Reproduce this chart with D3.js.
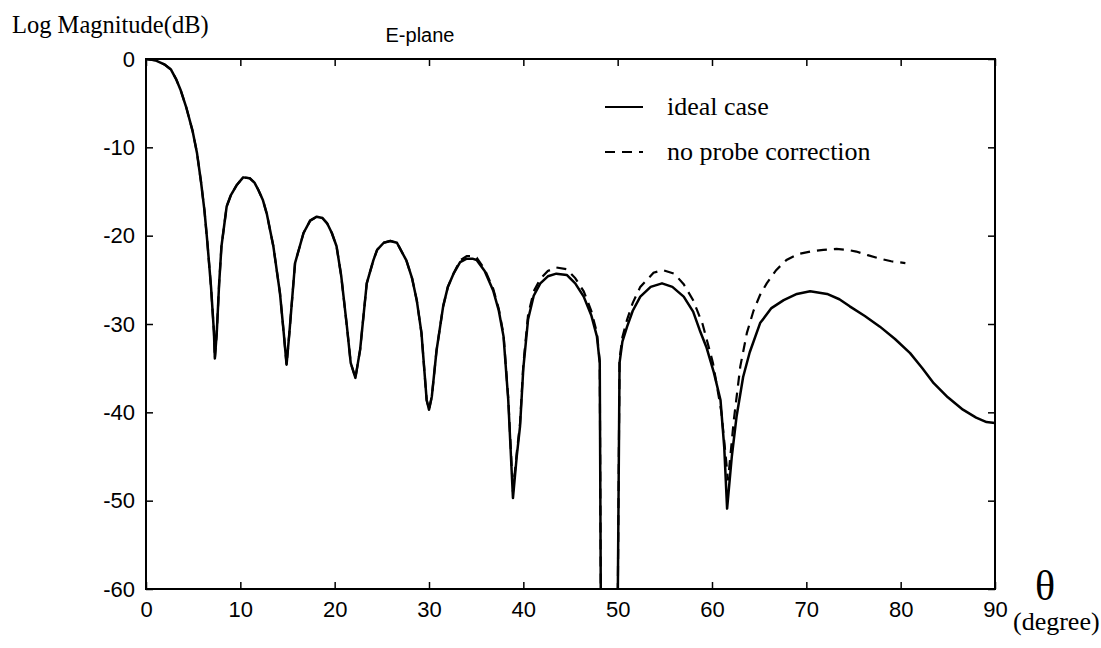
<!DOCTYPE html>
<html>
  <head>
    <meta charset="utf-8" />
    <title>E-plane</title>
    <script src="https://d3js.org/d3.v7.min.js"></script>
    <style>
      body { margin: 0; background: #fff; }
    </style>
  </head>
  <body>
    <svg width="1101" height="648"></svg>
    <script>
      // Data: [theta (deg), magnitude (dB)]
      var ideal = [
        [0, 0], [1, -0.15], [2, -0.65], [2.65, -1.2], [3.2, -2.3], [3.7, -3.6], [4.3, -5.6], [4.95, -8.2],
        [5.4, -10.6], [5.83, -13.9], [6.2, -17.2], [6.5, -20.7], [6.9, -25.9], [7.2, -30.9],
        [7.3, -33.9], [7.5, -31.0], [7.75, -25.5], [8.0, -21.2], [8.55, -16.7], [9.0, -15.4],
        [9.6, -14.3], [10.3, -13.4], [11.0, -13.5], [11.5, -14.0], [11.9, -14.8], [12.4, -16.0],
        [12.8, -17.5], [13.5, -21.2], [14.2, -26.5], [14.6, -31.0], [14.9, -34.6], [15.2, -31.0],
        [15.8, -23.1], [16.7, -19.7], [17.4, -18.3], [18.1, -17.85], [18.7, -18.0], [19.2, -18.6],
        [19.7, -19.7], [20.2, -21.2], [20.7, -24.6], [21.3, -30.3], [21.7, -34.4], [22.2, -36.1],
        [22.7, -32.9], [23.4, -25.4], [24.1, -22.8], [24.5, -21.6], [25.2, -20.8], [25.9, -20.6],
        [26.6, -20.8], [27.6, -22.8], [28.2, -24.8], [28.7, -27.3], [29.2, -31.0], [29.75, -38.6],
        [30.0, -39.7], [30.3, -38.2], [30.8, -33.0], [31.5, -28.0], [32.0, -25.8], [32.6, -24.3],
        [33.3, -23.0], [34.0, -22.6], [34.6, -22.6], [35.05, -22.75], [35.9, -24.0], [36.8, -26.2],
        [37.4, -28.5], [37.9, -31.4], [38.4, -38.6], [38.9, -49.7], [39.3, -45.0], [39.65, -41.6],
        [40.0, -35.0], [40.5, -29.5], [41.1, -26.8], [41.8, -25.4], [42.6, -24.6], [43.5, -24.3],
        [44.6, -24.45], [45.5, -25.4], [46.4, -26.9], [47.2, -29.0], [47.8, -31.4], [48.1, -34.4],
        [48.25, -70], [49.95, -70], [50.2, -34.4], [50.5, -32.0], [51.0, -30.3], [51.6, -28.5],
        [52.4, -26.9], [53.5, -25.8], [54.7, -25.4], [55.8, -25.8], [57.0, -26.9], [58.0, -28.6],
        [58.7, -30.7], [59.4, -32.6], [60.2, -35.5], [60.9, -38.6], [61.3, -44.0], [61.6, -50.9],
        [62.1, -45.0], [62.6, -40.5], [63.3, -36.0], [64.0, -33.2], [65.1, -29.9], [66.3, -28.2],
        [67.6, -27.3], [69.0, -26.6], [70.4, -26.3], [72.2, -26.6], [73.5, -27.2], [74.6, -28.0],
        [76.2, -29.1], [77.8, -30.3], [79.4, -31.7], [81.0, -33.3], [82.3, -35.0], [83.5, -36.7],
        [85.0, -38.3], [86.6, -39.7], [88.0, -40.6], [89.1, -41.1], [90, -41.2]
      ];

      var noProbe = [
        [0, 0], [1, -0.15], [2, -0.65], [2.65, -1.2], [3.2, -2.3], [3.7, -3.6], [4.3, -5.6], [4.95, -8.2],
        [5.4, -10.6], [5.83, -13.9], [6.2, -17.2], [6.5, -20.7], [6.9, -25.9], [7.2, -30.9],
        [7.3, -33.9], [7.5, -31.0], [7.75, -25.5], [8.0, -21.2], [8.55, -16.7], [9.0, -15.4],
        [9.6, -14.3], [10.3, -13.4], [11.0, -13.5], [11.5, -14.0], [11.9, -14.8], [12.4, -16.0],
        [12.8, -17.5], [13.5, -21.2], [14.2, -26.5], [14.6, -31.0], [14.9, -34.6], [15.2, -31.0],
        [15.8, -23.1], [16.7, -19.7], [17.4, -18.3], [18.1, -17.85], [18.7, -18.0], [19.2, -18.6],
        [19.7, -19.7], [20.2, -21.2], [20.7, -24.6], [21.3, -30.3], [21.7, -34.4], [22.2, -36.1],
        [22.7, -32.9], [23.4, -25.4], [24.1, -22.8], [24.5, -21.6], [25.2, -20.8], [25.9, -20.6],
        [26.6, -20.8], [27.6, -22.8], [28.2, -24.8], [28.7, -27.3], [29.2, -31.0], [29.75, -38.6],
        [30.0, -39.7], [30.3, -38.2], [30.8, -33.0], [31.5, -28.0], [32.0, -25.8], [32.6, -24.3],
        [33.3, -22.8], [34.0, -22.3], [34.6, -22.3], [35.05, -22.5], [35.9, -23.8], [36.8, -26.0],
        [37.4, -28.3], [37.9, -31.2], [38.4, -38.4], [38.9, -49.0], [39.3, -44.6], [39.65, -41.3],
        [40.0, -34.6], [40.5, -29.0], [41.1, -26.3], [41.8, -24.9], [42.6, -24.0], [43.5, -23.6],
        [44.6, -23.8], [45.5, -24.8], [46.4, -26.3], [47.2, -28.5], [47.8, -31.0], [48.1, -34.2],
        [48.25, -70], [49.95, -70], [50.2, -34.0], [50.5, -31.5], [51.0, -29.5], [51.6, -27.6],
        [52.4, -25.8], [53.8, -24.2], [54.8, -23.9], [56.0, -24.3], [57.0, -25.5], [58.0, -27.3],
        [59.0, -30.0], [60.1, -34.4], [61.0, -40.0], [61.7, -47.7], [62.3, -41.0], [63.0, -34.8],
        [63.7, -31.0], [64.4, -28.5], [65.1, -26.7], [65.8, -25.4], [66.8, -23.9], [67.9, -22.75],
        [69.1, -22.1], [70.4, -21.8], [71.8, -21.6], [73.2, -21.5], [74.3, -21.6], [75.3, -21.8],
        [76.5, -22.2], [77.8, -22.6], [79.0, -22.9], [80.5, -23.1]
      ];

      var xTicks = [0, 10, 20, 30, 40, 50, 60, 70, 80, 90];
      var yTicks = [0, -10, -20, -30, -40, -50, -60];
      var legendLabels = ["ideal case", "no probe correction"];

      var svg = d3.select("svg");

      // plot box
      var box = { left: 146, right: 995, top: 59, bottom: 589 };

      var x = d3.scaleLinear().domain([0, 90]).range([box.left, box.right]);
      var y = d3.scaleLinear().domain([-60, 0]).range([box.bottom, box.top]);

      svg.append("clipPath").attr("id", "clip")
        .append("rect")
        .attr("x", box.left).attr("y", box.top)
        .attr("width", box.right - box.left).attr("height", box.bottom - box.top);

      // plain hyphen minus like the original
      var fmt = function (d) { return String(d); };

      // axes, ticks pointing inward like matlab
      function styleAxis(g) {
        g.select(".domain").remove();
        g.selectAll(".tick line").attr("stroke", "#000").attr("stroke-width", 1.5);
        g.selectAll(".tick text")
          .style("font-family", "'Liberation Sans', Arial, sans-serif")
          .style("font-size", "22px")
          .attr("fill", "#000");
      }

      svg.append("g")
        .attr("transform", "translate(0," + box.bottom + ")")
        .call(d3.axisBottom(x).tickValues(xTicks).tickSizeInner(-7).tickSizeOuter(0).tickPadding(12).tickFormat(fmt))
        .call(styleAxis);

      svg.append("g")
        .attr("transform", "translate(0," + box.top + ")")
        .call(d3.axisTop(x).tickValues(xTicks).tickSizeInner(-7).tickSizeOuter(0).tickFormat(""))
        .call(styleAxis);

      svg.append("g")
        .attr("transform", "translate(" + box.left + ",0)")
        .call(d3.axisLeft(y).tickValues(yTicks).tickSizeInner(-7).tickSizeOuter(0).tickPadding(11).tickFormat(fmt))
        .call(styleAxis);

      svg.append("g")
        .attr("transform", "translate(" + box.right + ",0)")
        .call(d3.axisRight(y).tickValues(yTicks).tickSizeInner(-7).tickSizeOuter(0).tickFormat(""))
        .call(styleAxis);

      svg.append("rect")
        .attr("x", box.left).attr("y", box.top)
        .attr("width", box.right - box.left).attr("height", box.bottom - box.top)
        .attr("fill", "none").attr("stroke", "#000").attr("stroke-width", 2);

      var line = d3.line()
        .x(function (d) { return x(d[0]); })
        .y(function (d) { return y(d[1]); });

      var plot = svg.append("g").attr("clip-path", "url(#clip)");

      plot.append("path")
        .datum(noProbe)
        .attr("d", line)
        .attr("fill", "none")
        .attr("stroke", "#000")
        .attr("stroke-width", 2.2)
        .attr("stroke-dasharray", "10,7");

      plot.append("path")
        .datum(ideal)
        .attr("d", line)
        .attr("fill", "none")
        .attr("stroke", "#000")
        .attr("stroke-width", 2.5)
        .attr("stroke-linejoin", "round");

      // legend
      var legend = svg.append("g");
      legend.selectAll("line")
        .data(legendLabels)
        .enter()
        .append("line")
        .attr("x1", 605).attr("x2", 643)
        .attr("y1", function (d, i) { return 107 + i * 45; })
        .attr("y2", function (d, i) { return 107 + i * 45; })
        .attr("stroke", "#000")
        .attr("stroke-width", 2)
        .attr("stroke-dasharray", function (d, i) { return i ? "10,7" : null; });

      legend.selectAll("text")
        .data(legendLabels)
        .enter()
        .append("text")
        .attr("x", 667)
        .attr("y", function (d, i) { return 115 + i * 45; })
        .style("font-family", "'Liberation Serif', 'Times New Roman', serif")
        .style("font-size", "26px")
        .text(function (d) { return d; });

      // labels
      svg.append("text")
        .attr("x", 12).attr("y", 33)
        .style("font-family", "'Liberation Serif', 'Times New Roman', serif")
        .style("font-size", "24.5px")
        .text("Log Magnitude(dB)");

      svg.append("text")
        .attr("x", 420).attr("y", 42)
        .attr("text-anchor", "middle")
        .style("font-family", "'Liberation Sans', Arial, sans-serif")
        .style("font-size", "20px")
        .text("E-plane");

      svg.append("text")
        .attr("x", 1045).attr("y", 600)
        .attr("text-anchor", "middle")
        .style("font-family", "'Liberation Serif', 'Times New Roman', serif")
        .style("font-size", "42px")
        .text("θ");

      svg.append("text")
        .attr("x", 1013).attr("y", 630)
        .style("font-family", "'Liberation Serif', 'Times New Roman', serif")
        .style("font-size", "26px")
        .text("(degree)");
    </script>
  </body>
</html>
